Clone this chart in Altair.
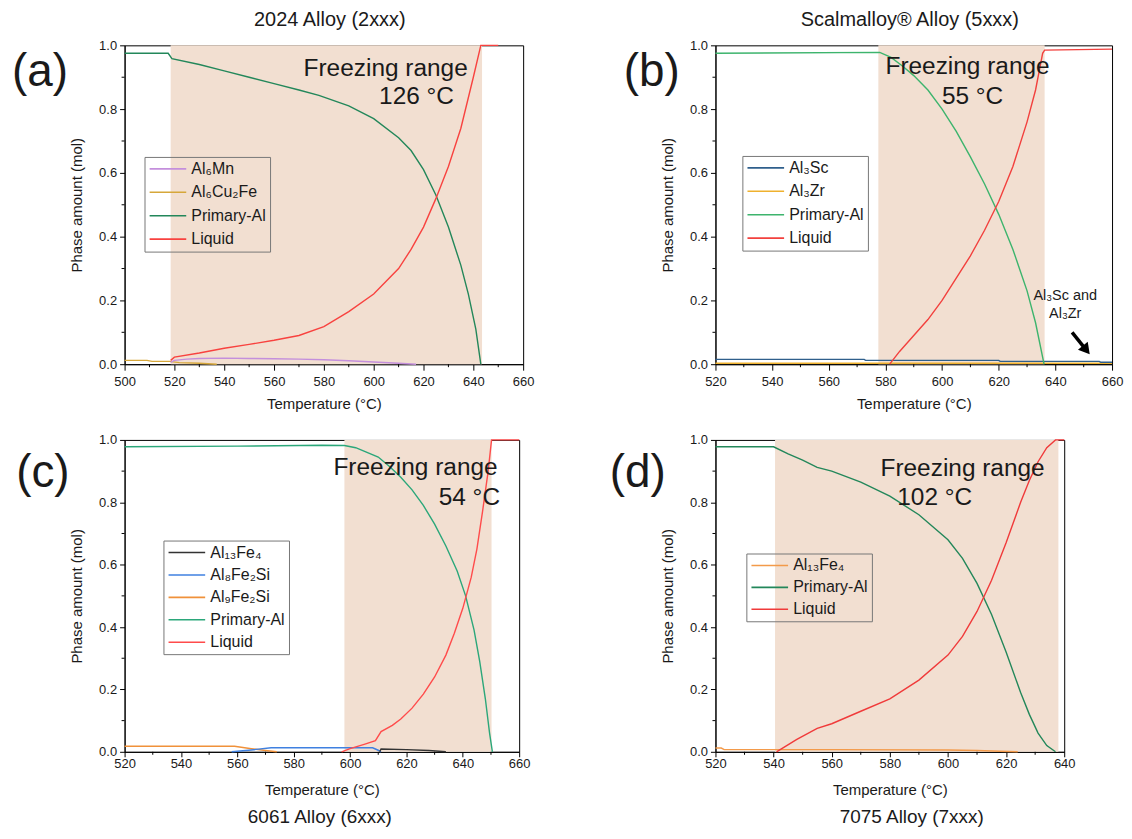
import altair as alt
import pandas as pd

FONT = "Liberation Sans"
PEACH = "#f2dfd1"
TXT = "#1a1a1a"

# ---------------- (a) 2024 Alloy ----------------
A_NAMES = ["Al₆Mn", "Al₆Cu₂Fe", "Primary-Al", "Liquid"]
A_COLORS = ["#c48fdc", "#d6a73a", "#23875a", "#f8423f"]
A_MN_T = [518.5, 520, 525, 530, 540, 550, 560, 570, 580, 590, 600, 610, 617]
A_MN_V = [0.006, 0.012, 0.016, 0.018, 0.019, 0.018, 0.017, 0.016, 0.014, 0.011, 0.007, 0.003, 0.0]
A_CU_T = [500, 509, 511, 518, 522, 530, 537]
A_CU_V = [0.012, 0.012, 0.009, 0.009, 0.005, 0.003, 0.0]
A_PR_T = [500, 517.5, 519, 530, 540, 550, 560, 570, 578, 590, 600, 610, 615, 620, 625, 630, 635, 638, 641, 643]
A_PR_V = [0.975, 0.975, 0.958, 0.94, 0.92, 0.90, 0.88, 0.86, 0.843, 0.81, 0.77, 0.71, 0.67, 0.61, 0.53, 0.43, 0.31, 0.22, 0.11, 0.0]
A_LQ_T = [518.5, 520, 530, 540, 550, 560, 570, 580, 590, 600, 610, 615, 620, 625, 630, 635, 640, 643, 650]
A_LQ_V = [0.012, 0.022, 0.035, 0.05, 0.062, 0.075, 0.09, 0.118, 0.165, 0.22, 0.30, 0.36, 0.43, 0.52, 0.62, 0.74, 0.90, 1.0, 1.0]
A_RANGE = [518.5, 643.5]

# ---------------- (b) Scalmalloy ----------------
B_NAMES = ["Al₃Sc", "Al₃Zr", "Primary-Al", "Liquid"]
B_COLORS = ["#2f5f8c", "#efb12e", "#3db46d", "#f2403d"]
B_SC_T = [520, 572.5, 573, 620, 620.5, 655.5, 656, 660]
B_SC_V = [0.015, 0.015, 0.012, 0.012, 0.009, 0.009, 0.006, 0.006]
B_ZR_T = [520, 660]
B_ZR_V = [0.003, 0.003]
B_PR_T = [520, 578, 582, 586, 590, 595, 600, 605, 610, 615, 620, 625, 630, 633, 636]
B_PR_V = [0.975, 0.978, 0.962, 0.935, 0.905, 0.86, 0.80, 0.73, 0.65, 0.565, 0.47, 0.36, 0.23, 0.13, 0.0]
B_LQ_T = [581.5, 585, 590, 595, 600, 605, 610, 615, 620, 625, 630, 633, 635.5, 636.2, 660]
B_LQ_V = [0.0, 0.04, 0.09, 0.14, 0.2, 0.27, 0.34, 0.42, 0.51, 0.62, 0.76, 0.86, 0.975, 0.985, 0.988]
B_RANGE = [577.5, 636.2]
B_ARROW_T = [645.9, 650.5]
B_ARROW_V = [0.100, 0.049]

# ---------------- (c) 6061 ----------------
C_NAMES = ["Al₁₃Fe₄", "Al₈Fe₂Si", "Al₉Fe₂Si", "Primary-Al", "Liquid"]
C_COLORS = ["#333333", "#3f80e0", "#f0913a", "#2ba77a", "#ff4b4b"]
C_FE_T = [610.5, 611, 620, 628, 634]
C_FE_V = [0.0, 0.009, 0.007, 0.004, 0.0]
C_A8_T = [558, 565, 572, 608, 610, 611]
C_A8_V = [0.0, 0.006, 0.013, 0.013, 0.005, 0.0]
C_A9_T = [520, 559, 565, 570, 574]
C_A9_V = [0.018, 0.018, 0.01, 0.004, 0.0]
C_PR_T = [520, 560, 590, 598, 602, 606, 610, 614, 618, 622, 626, 630, 634, 638, 641, 644, 646, 648, 649.5, 650.5]
C_PR_V = [0.978, 0.98, 0.983, 0.982, 0.975, 0.96, 0.945, 0.915, 0.88, 0.84, 0.79, 0.73, 0.66, 0.58, 0.5, 0.39, 0.29, 0.17, 0.06, 0.0]
C_LQ_T = [597, 600, 605, 609, 611, 615, 618, 622, 626, 630, 634, 637, 640, 643, 645, 647, 649, 650.2, 660]
C_LQ_V = [0.0, 0.01, 0.024, 0.036, 0.065, 0.085, 0.105, 0.14, 0.185, 0.24, 0.31, 0.38, 0.46, 0.56, 0.65, 0.77, 0.9, 1.0, 1.0]
C_RANGE = [598, 650.2]

# ---------------- (d) 7075 ----------------
D_NAMES = ["Al₁₃Fe₄", "Primary-Al", "Liquid"]
D_COLORS = ["#f39a4a", "#23875a", "#f03a3a"]
D_FE_T = [520, 522, 523, 560, 600, 610, 618, 624]
D_FE_V = [0.012, 0.012, 0.007, 0.007, 0.006, 0.004, 0.002, 0.0]
D_PR_T = [520, 540, 545, 550, 555, 560, 570, 580, 590, 600, 605, 610, 615, 620, 625, 628, 631, 634, 637]
D_PR_V = [0.978, 0.978, 0.955, 0.935, 0.912, 0.9, 0.865, 0.82, 0.76, 0.68, 0.62, 0.54, 0.44, 0.32, 0.19, 0.12, 0.06, 0.02, 0.0]
D_LQ_T = [541, 548, 555, 560, 570, 580, 590, 600, 605, 610, 615, 620, 625, 628, 631, 634, 637, 640]
D_LQ_V = [0.0, 0.04, 0.075, 0.09, 0.13, 0.17, 0.23, 0.31, 0.37, 0.45, 0.55, 0.67, 0.8, 0.87, 0.93, 0.975, 1.0, 1.0]
D_RANGE = [540.5, 638]

Y_MAJOR = [0.0, 0.2, 0.4, 0.6, 0.8, 1.0]
Y_MINOR = [0.1, 0.3, 0.5, 0.7, 0.9]
XT = "Temperature (°C)"
YT = "Phase amount (mol)"


def text_layer(txt, x, y, size, align="center"):
    return alt.Chart(pd.DataFrame({"t": [txt]})).mark_text(
        font=FONT, fontSize=size, color=TXT, align=align, baseline="middle"
    ).encode(text="t:N", x=alt.value(x), y=alt.value(y))


def panel(series, names, colors, xdom, xmajor, xminor, frange, W, H,
          legend_xy, row_pad, texts, top_row, extra=None):
    rows = []
    for name, ts, vs in series:
        for i, (t, v) in enumerate(zip(ts, vs)):
            rows.append({"T": t, "v": v, "s": name, "i": i})
    df = pd.DataFrame(rows)
    xscale = alt.Scale(domain=xdom, nice=False, zero=False)
    yscale = alt.Scale(domain=[0, 1], nice=False)
    xaxis = alt.Axis(values=xmajor, format="d", grid=False, labelFlush=False,
                     tickSize=6 if top_row else 5, tickColor="black",
                     domainColor="black", labelFont=FONT, labelFontSize=13,
                     labelColor=TXT, labelPadding=5 if top_row else 1,
                     titleFont=FONT, titleFontSize=15, titleFontWeight="normal",
                     titleColor=TXT, titlePadding=8 if top_row else 12)
    yaxis = alt.Axis(values=Y_MAJOR, format=".1f", grid=False, tickSize=5,
                     labelFlush=False,
                     tickColor="black", domainColor="black", labelFont=FONT,
                     labelFontSize=13, labelColor=TXT, labelPadding=3,
                     titleFont=FONT, titleFontSize=15, titleFontWeight="normal",
                     titleColor=TXT, titlePadding=14)

    def X(f):
        return alt.X(f, scale=xscale, axis=xaxis, title=XT)

    def Y(f):
        return alt.Y(f, scale=yscale, axis=yaxis, title=YT)

    rect = alt.Chart(pd.DataFrame({"lo": [frange[0]], "hi": [frange[1]],
                                   "b": [0.0], "t": [1.0]})).mark_rect(
        color=PEACH).encode(x=X("lo:Q"), x2="hi:Q", y=Y("b:Q"), y2="t:Q")
    lines = alt.Chart(df).mark_line(strokeWidth=1.4).encode(
        x=X("T:Q"), y=Y("v:Q"),
        color=alt.Color("s:N", scale=alt.Scale(domain=names, range=colors),
                        legend=alt.Legend(
                            title=None, orient="none", legendX=legend_xy[0],
                            legendY=legend_xy[1], symbolType="stroke",
                            symbolSize=1350, symbolStrokeWidth=1.6,
                            clipHeight=16,
                            labelFont=FONT, labelFontSize=16, labelColor=TXT,
                            strokeColor="#777777", padding=4,
                            rowPadding=row_pad, labelOffset=4)),
        order="i:Q")
    mx = alt.Chart(pd.DataFrame({"m": xminor})).mark_rule(color="black").encode(
        x=X("m:Q"), y=alt.value(H), y2=alt.value(H + 3))
    my = alt.Chart(pd.DataFrame({"m": Y_MINOR})).mark_rule(color="black").encode(
        y=Y("m:Q"), x=alt.value(0), x2=alt.value(-3))
    layers = [rect, lines, mx, my]
    if extra is not None:
        layers += extra(X, Y)
    layers += [text_layer(*t) for t in texts]
    return alt.layer(*layers).properties(width=W, height=H)


def arrow_b(X, Y):
    d = pd.DataFrame({"x1": [B_ARROW_T[0]], "x2": [B_ARROW_T[1]],
                      "y1": [B_ARROW_V[0]], "y2": [B_ARROW_V[1]]})
    shaft = alt.Chart(d).mark_rule(color="black", strokeWidth=3.5).encode(
        x=X("x1:Q"), x2="x2:Q", y=Y("y1:Q"), y2="y2:Q")
    head = alt.Chart(d).mark_point(shape="triangle", filled=True, color="black",
                                   opacity=1, size=160, angle=141).encode(
        x=X("x2:Q"), y=Y("y2:Q"))
    return [shaft, head]


pa = panel(
    [(A_NAMES[1], A_CU_T, A_CU_V), (A_NAMES[0], A_MN_T, A_MN_V),
     (A_NAMES[2], A_PR_T, A_PR_V), (A_NAMES[3], A_LQ_T, A_LQ_V)],
    A_NAMES, A_COLORS, [500, 660], list(range(500, 661, 20)),
    list(range(510, 660, 20)), A_RANGE, 400, 320, (20, 112), 7.5,
    [("(a)", -85, 27, 46), ("2024 Alloy (2xxx)", 206, -25, 20),
     ("Freezing range", 262, 24, 24.5), ("126 °C", 293, 52, 24.5)],
    True)

pb = panel(
    [(B_NAMES[1], B_ZR_T, B_ZR_V), (B_NAMES[0], B_SC_T, B_SC_V),
     (B_NAMES[2], B_PR_T, B_PR_V), (B_NAMES[3], B_LQ_T, B_LQ_V)],
    B_NAMES, B_COLORS, [520, 660], list(range(520, 661, 20)),
    list(range(530, 660, 20)), B_RANGE, 398, 320, (27, 111), 7.5,
    [("(b)", -64, 27, 46), ("Scalmalloy® Alloy (5xxx)", 195, -25, 20),
     ("Freezing range", 253, 22, 24.5), ("55 °C", 258, 52, 24.5),
     ("Al₃Sc and", 351, 252, 14.5), ("Al₃Zr", 351, 270, 14.5)],
    True, extra=arrow_b)

pc = panel(
    [(C_NAMES[2], C_A9_T, C_A9_V), (C_NAMES[1], C_A8_T, C_A8_V),
     (C_NAMES[0], C_FE_T, C_FE_V), (C_NAMES[3], C_PR_T, C_PR_V),
     (C_NAMES[4], C_LQ_T, C_LQ_V)],
    C_NAMES, C_COLORS, [520, 660], list(range(520, 661, 20)),
    list(range(530, 660, 20)), C_RANGE, 396, 313, (39, 101), 6.5,
    [("(c)", -82, 33, 46), ("6061 Alloy (6xxx)", 196, 378, 19),
     ("Freezing range", 292, 28, 24.5), ("54 °C", 346, 58, 24.5)],
    False)

pd_ = panel(
    [(D_NAMES[0], D_FE_T, D_FE_V), (D_NAMES[1], D_PR_T, D_PR_V),
     (D_NAMES[2], D_LQ_T, D_LQ_V)],
    D_NAMES, D_COLORS, [520, 640], list(range(520, 641, 20)),
    list(range(530, 640, 20)), D_RANGE, 350, 313, (31, 114), 6,
    [("(d)", -78, 33, 46), ("7075 Alloy (7xxx)", 197, 378, 19),
     ("Freezing range", 248, 29, 24.5), ("102 °C", 220, 58, 24.5)],
    False)

chart = alt.concat(
    pa, pb, pc, pd_, columns=2, spacing={"row": 76, "column": 193},
    bounds="flush", align="none"
).resolve_scale(
    color="independent", x="independent", y="independent"
).resolve_legend(color="independent").properties(
    padding={"left": 3, "top": 0, "right": 0, "bottom": 0}, background="white"
).configure_view(stroke="black", strokeWidth=1)

chart.save("out.html", embed_options={"renderer": "svg", "actions": False})
